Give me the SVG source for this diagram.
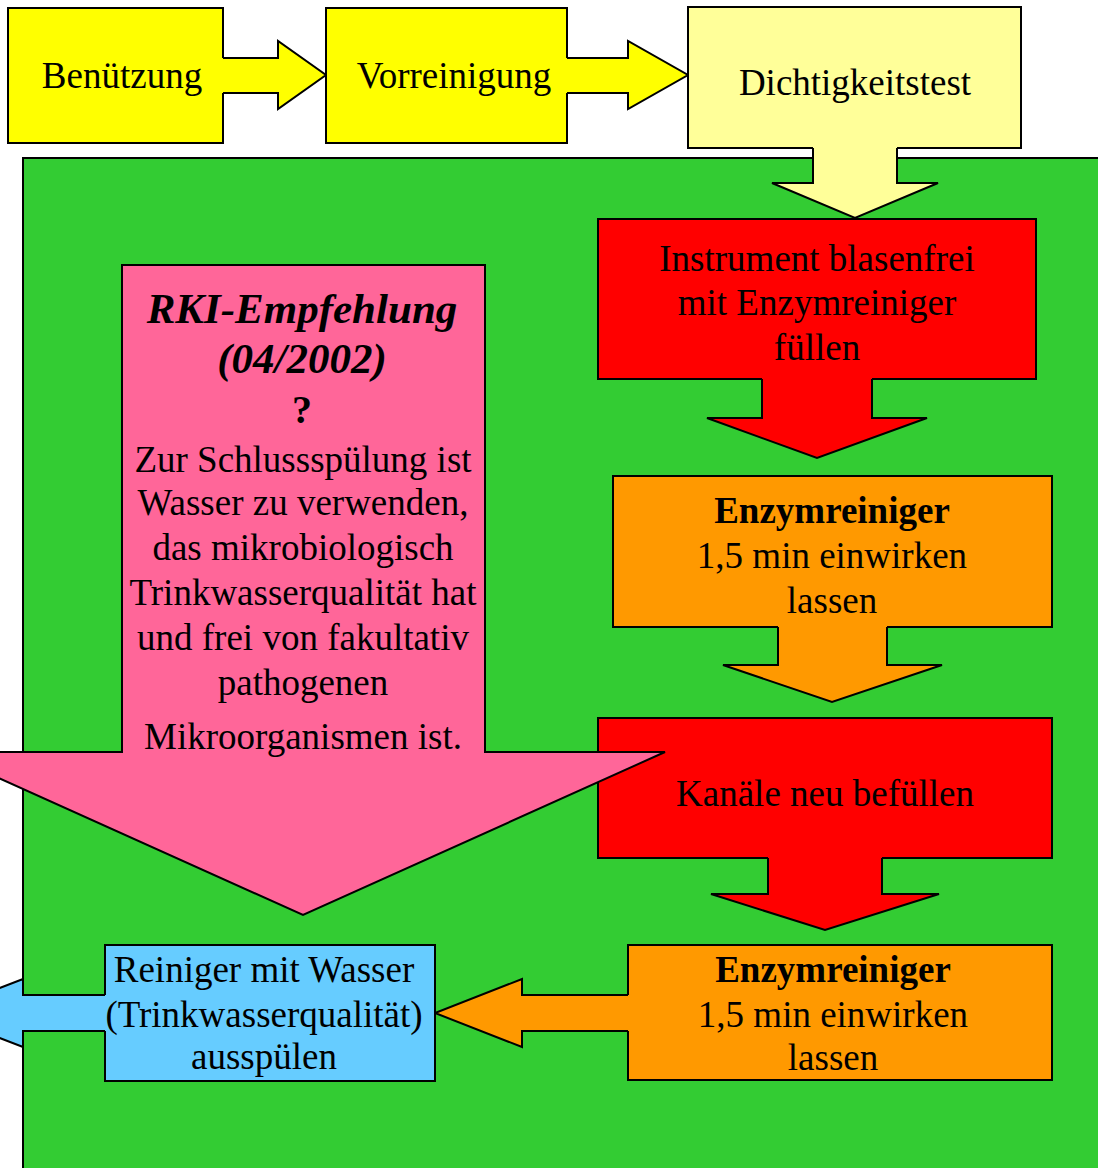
<svg xmlns="http://www.w3.org/2000/svg" width="1098" height="1168" viewBox="0 0 1098 1168">
<style>
.s{stroke:#000;stroke-width:2;stroke-linejoin:miter}
.t{font-family:"Liberation Serif","Times New Roman",serif;font-size:37px;fill:#000;text-anchor:middle}
.b{font-weight:bold}
.h{font-weight:bold;font-style:italic;font-size:43px}
.yel{fill:#FFFF00}.lyel{fill:#FFFF99}.grn{fill:#33CC33}.red{fill:#FF0000}.org{fill:#FF9900}.pnk{fill:#FF6699}.blu{fill:#66CCFF}
</style>
<rect width="1098" height="1168" fill="#fff"/>
<g id="phase">
<rect class="s grn" x="23" y="158" width="1100" height="1040"/>
</g>
<g id="connectors">
<path class="s yel" d="M213,58 H278 V41 L326,75 L278,109 V93 H213"/>
<path class="s yel" d="M557,58 H628 V41 L688,75 L628,109 V93 H557"/>
<path class="s lyel" d="M813,138 V183 H772 L855,218 L938,183 H897 V138"/>
<path class="s red" d="M762,370 V418 H707 L817,458 L927,418 H872 V370"/>
<path class="s org" d="M778,617 V665 H723 L832,702 L942,665 H887 V617"/>
<path class="s red" d="M768,848 V894 H711 L825,930 L939,894 H882 V848"/>
<path class="s org" d="M638,995 H522 V979 L435,1013 L522,1047 V1031 H638"/>
<path class="s blu" d="M115,995 H23 V979 L-65,1013 L23,1047 V1031 H115"/>
</g>
<g id="benuetzung">
<path class="s yel" d="M223,58 V8 H8 V143 H223 V93"/>
<text class="t" x="122" y="88">Benützung</text>
</g>
<g id="vorreinigung">
<path class="s yel" d="M567,58 V8 H326 V143 H567 V93"/>
<text class="t" x="454" y="88">Vorreinigung</text>
</g>
<g id="dichtigkeitstest">
<path class="s lyel" d="M813,148 H688 V7 H1021 V148 H897"/>
<text class="t" x="855" y="95">Dichtigkeitstest</text>
</g>
<g id="instrument-fuellen">
<path class="s red" d="M762,379 H598 V219 H1036 V379 H872"/>
<text class="t" x="817" y="271">Instrument blasenfrei</text>
<text class="t" x="817" y="315">mit Enzymreiniger</text>
<text class="t" x="817" y="360">füllen</text>
</g>
<g id="enzym-1">
<path class="s org" d="M778,627 H613 V476 H1052 V627 H887"/>
<text class="t b" x="832" y="523">Enzymreiniger</text>
<text class="t" x="832" y="568">1,5 min einwirken</text>
<text class="t" x="832" y="613">lassen</text>
</g>
<g id="kanaele">
<path class="s red" d="M768,858 H598 V718 H1052 V858 H882"/>
<text class="t" x="825" y="806">Kanäle neu befüllen</text>
</g>
<g id="rki">
<path class="s pnk" d="M122,752 V265 H485 V752 H665 L303,915 L-59,752 Z"/>
<text class="t h" x="302" y="323">RKI-Empfehlung</text>
<text class="t h" x="302" y="373">(04/2002)</text>
<text class="t b" x="302" y="423" style="font-size:40px">?</text>
<text class="t" x="303" y="472">Zur Schlussspülung ist</text>
<text class="t" x="303" y="515">Wasser zu verwenden,</text>
<text class="t" x="303" y="560">das mikrobiologisch</text>
<text class="t" x="303" y="605">Trinkwasserqualität hat</text>
<text class="t" x="303" y="650">und frei von fakultativ</text>
<text class="t" x="303" y="695">pathogenen</text>
<text class="t" x="303" y="749">Mikroorganismen ist.</text>
</g>
<g id="enzym-2">
<path class="s org" d="M628,995 V945 H1052 V1080 H628 V1031"/>
<text class="t b" x="833" y="982">Enzymreiniger</text>
<text class="t" x="833" y="1027">1,5 min einwirken</text>
<text class="t" x="833" y="1070">lassen</text>
</g>
<g id="ausspuelen">
<path class="s blu" d="M105,995 V945 H435 V1081 H105 V1031"/>
<text class="t" x="264" y="982">Reiniger mit Wasser</text>
<text class="t" x="264" y="1027">(Trinkwasserqualität)</text>
<text class="t" x="264" y="1069">ausspülen</text>
</g>
</svg>
